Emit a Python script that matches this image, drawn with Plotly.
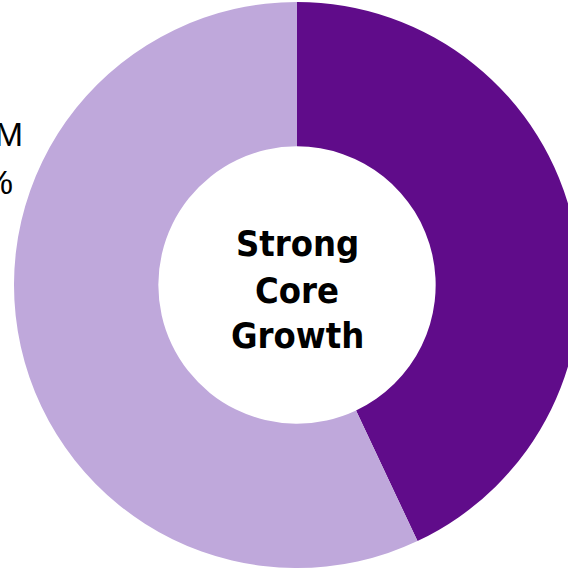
import plotly.graph_objects as go

# Data
segments = ["Core Growth", "Other"]
values = [43, 57]
colors = ["#600C8A", "#BFA8DB"]
center_lines = ["Strong", "Core", "Growth"]
left_label_lines = ["$31M", "57%"]
right_label_lines = ["$23M", "43%"]

W, H = 600, 570

def px(x):
    return x / W

def py(y):
    return 1 - y / H

fig = go.Figure(go.Pie(
    labels=segments,
    values=values,
    hole=0.49,
    sort=False,
    direction="clockwise",
    rotation=0,
    marker=dict(colors=colors, line=dict(width=0)),
    textinfo="none",
    hoverinfo="label+percent",
    showlegend=False,
    domain=dict(x=[14 / W, 580 / W], y=[2 / H, 568 / H]),
))

annotations = []
for line, yc in zip(center_lines, [243, 290, 335]):
    annotations.append(dict(
        text=f"<b>{line}</b>", x=px(297), y=py(yc), xref="paper", yref="paper",
        xanchor="center", yanchor="middle", showarrow=False,
        font=dict(family="DejaVu Sans Condensed", size=36, color="#000000"),
    ))

for line, (xr, yc) in zip(left_label_lines, [(25, 134), (15, 182)]):
    annotations.append(dict(
        text=line, x=px(xr), y=py(yc), xref="paper", yref="paper",
        xanchor="right", yanchor="middle", showarrow=False,
        font=dict(family="Liberation Sans", size=34, color="#000000"),
    ))

for line, (xl, yc) in zip(right_label_lines, [(567, 134), (567, 182)]):
    annotations.append(dict(
        text=line, x=px(xl), y=py(yc), xref="paper", yref="paper",
        xanchor="left", yanchor="middle", showarrow=False,
        font=dict(family="Liberation Sans", size=34, color="#000000"),
    ))

fig.update_layout(
    width=W, height=H,
    margin=dict(l=0, r=0, t=0, b=0),
    paper_bgcolor="white",
    plot_bgcolor="white",
    annotations=annotations,
)

fig.write_html(
    "out.html",
    post_script="document.body.style.overflow='hidden';document.documentElement.style.overflow='hidden';",
)
